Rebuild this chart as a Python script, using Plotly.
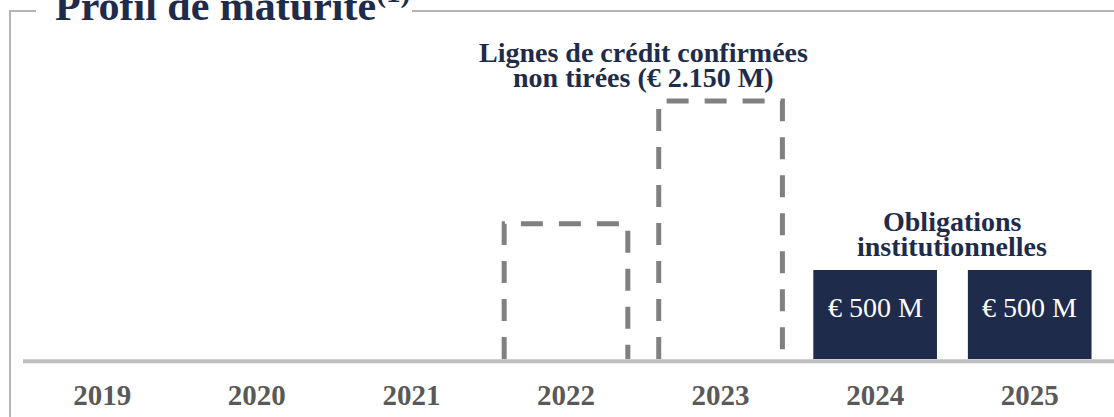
import plotly.graph_objects as go

# ---- data ----
years = ["2019", "2020", "2021", "2022", "2023", "2024", "2025"]
credit_lines = [0, 0, 0, 760, 1450, 0, 0]      # undrawn confirmed credit lines (€ M), dashed outline
bonds = [0, 0, 0, 0, 0, 500, 500]               # institutional bonds (€ M), solid bars
bond_labels = ["", "", "", "", "", "€ 500 M", "€ 500 M"]
credit_title = ["Lignes de crédit confirmées", "non tirées (€ 2.150 M)"]
bond_title = ["Obligations", "institutionnelles"]
title_text = "Profil de maturité<sup>(1)</sup>"

# ---- styling ----
W, H = 1114, 417
ML, MR, MT, MB = 25, 7, 10, 58
PW, PH = W - ML - MR, H - MT - MB
NAVY = "#1e2b4b"
DASH_GREY = "#808080"
FRAME = "#b4b4b4"
SERIF = "Liberation Serif"
Y_MAX = PH * 500 / 89


def px(x):
    return (x - ML) / PW


def py(y):
    return (H - MB - y) / PH


idx = list(range(len(years)))
fig = go.Figure()

fig.add_trace(go.Bar(
    x=idx, y=bonds, width=0.8,
    marker=dict(color=NAVY, line=dict(width=0)),
    hoverinfo="skip", showlegend=False,
))

for i, v in enumerate(credit_lines):
    if v > 0:
        fig.add_trace(go.Scatter(
            x=[i - 0.4, i - 0.4, i + 0.4, i + 0.4], y=[0, v, v, 0],
            mode="lines", line=dict(color=DASH_GREY, width=5, dash="22px,16px"),
            hoverinfo="skip", showlegend=False,
        ))

annotations = []
for i, (v, lab) in enumerate(zip(bonds, bond_labels)):
    if v > 0 and lab:
        annotations.append(dict(
            x=i, y=v / 2, xref="x", yref="y", text=lab, showarrow=False,
            font=dict(family=SERIF, size=28, color="white"), yshift=7,
        ))

# group titles
credit_idx = [i for i, v in enumerate(credit_lines) if v > 0]
bond_idx = [i for i, v in enumerate(bonds) if v > 0]
for group_idx, vals, lines in ((credit_idx, credit_lines, credit_title), (bond_idx, bonds, bond_title)):
    xc = sum(group_idx) / len(group_idx)
    top = max(vals)
    n = len(lines)
    for k, line in enumerate(lines):
        annotations.append(dict(
            x=xc, y=top, xref="x", yref="y", text=line, showarrow=False,
            xanchor="center", yanchor="bottom", yshift=6 + 25 * (n - 1 - k),
            font=dict(family=SERIF, size=28, color=NAVY, weight="bold"),
        ))

annotations.append(dict(
    x=px(53), y=py(31), xref="paper", yref="paper", text=title_text,
    showarrow=False, xanchor="left", yanchor="bottom",
    font=dict(family=SERIF, size=42, color=NAVY, weight="bold"),
))

shapes = [
    # baseline
    dict(type="line", xref="paper", yref="paper", x0=px(23), x1=px(1116),
         y0=py(361.3), y1=py(361.3), line=dict(color="#bfbfbf", width=4)),
    # frame
    dict(type="line", xref="paper", yref="paper", x0=px(10), x1=px(10),
         y0=py(10), y1=py(420), line=dict(color=FRAME, width=2)),
    dict(type="line", xref="paper", yref="paper", x0=px(9), x1=px(36),
         y0=py(11), y1=py(11), line=dict(color=FRAME, width=2)),
    dict(type="line", xref="paper", yref="paper", x0=px(412), x1=px(1116),
         y0=py(11), y1=py(11), line=dict(color=FRAME, width=2)),
]

fig.update_layout(
    width=W, height=H,
    margin=dict(l=ML, r=MR, t=MT, b=MB),
    paper_bgcolor="white", plot_bgcolor="white",
    bargap=0.2, showlegend=False,
    annotations=annotations, shapes=shapes,
    xaxis=dict(range=[-0.5, 6.5], tickmode="array", tickvals=idx, ticktext=years,
               showgrid=False, zeroline=False, showline=False, ticks="",
               tickfont=dict(family=SERIF, size=29, color="#595959", weight="bold"),
               ticklabelstandoff=16, fixedrange=True),
    yaxis=dict(range=[0, Y_MAX], visible=False, showgrid=False, zeroline=False, fixedrange=True),
)

fig.write_html("out.html", config={"displayModeBar": False},
               post_script="document.body.style.margin='0';document.body.style.overflow='hidden';")
